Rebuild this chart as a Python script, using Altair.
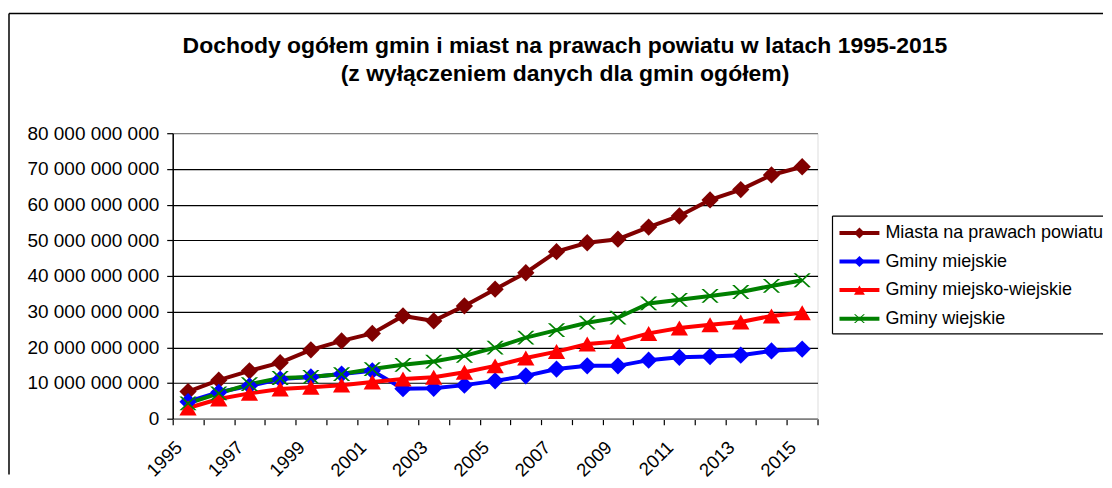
import altair as alt
import pandas as pd

# ---- data (values in PLN) ----
years = list(range(1995, 2016))
series = ["Miasta na prawach powiatu", "Gminy miejskie", "Gminy miejsko-wiejskie", "Gminy wiejskie"]
colors = ["#800000", "#0000FF", "#FF0000", "#008000"]
X_SHAPE = "M-1,-0.8L-0.72,-0.8L1,0.8L0.72,0.8ZM0.72,-0.8L1,-0.8L-0.72,0.8L-1,0.8Z"
shapes = ["diamond", "diamond", "triangle-up", X_SHAPE]

miasta = [7.6e9, 10.8e9, 13.4e9, 15.7e9, 19.3e9, 21.8e9, 23.9e9, 28.8e9, 27.4e9, 31.6e9, 36.3e9,
          40.9e9, 46.8e9, 49.3e9, 50.3e9, 53.7e9, 56.8e9, 61.3e9, 64.2e9, 68.3e9, 70.6e9]
miejskie = [4.75e9, 7.4e9, 9.2e9, 11.1e9, 11.7e9, 12.5e9, 13.4e9, 8.4e9, 8.5e9, 9.4e9, 10.6e9,
            12.0e9, 13.9e9, 14.8e9, 14.8e9, 16.4e9, 17.2e9, 17.4e9, 17.8e9, 19.0e9, 19.5e9]
miejsko_wiejskie = [3.0e9, 5.5e9, 7.1e9, 8.3e9, 8.8e9, 9.4e9, 10.3e9, 11.1e9, 11.6e9, 13.0e9, 14.8e9,
                    17.0e9, 18.8e9, 20.9e9, 21.6e9, 23.9e9, 25.4e9, 26.3e9, 27.1e9, 28.8e9, 29.7e9]
wiejskie = [4.3e9, 7.1e9, 9.7e9, 11.4e9, 11.7e9, 12.5e9, 13.9e9, 15.1e9, 16.0e9, 17.6e9, 19.9e9,
            22.7e9, 24.8e9, 26.9e9, 28.3e9, 32.3e9, 33.3e9, 34.4e9, 35.5e9, 37.2e9, 38.8e9]

y_ticks = [0, 10e9, 20e9, 30e9, 40e9, 50e9, 60e9, 70e9, 80e9]
title_lines = ["Dochody ogółem gmin i miast na prawach powiatu w latach 1995-2015",
               "(z wyłączeniem danych dla gmin ogółem)"]

rows = []
for idx, (name, vals) in enumerate(zip(series, [miasta, miejskie, miejsko_wiejskie, wiejskie])):
    for yr, v in zip(years, vals):
        rows.append({"rok": yr, "seria": name, "wartosc": v, "kolejnosc": idx})
df = pd.DataFrame(rows)

W, H = 646, 286
FONT = "Liberation Sans"

# x axis: ticks at category boundaries, labels at every other category centre
x_values = [y - 0.5 for y in years] + [years[-1] + 0.5] + years[::2]

x_enc = alt.X(
    "rok:Q",
    scale=alt.Scale(domain=[years[0] - 0.5, years[-1] + 0.5], nice=False, zero=False),
    axis=alt.Axis(
        values=x_values, title=None, grid=False,
        labelExpr="datum.value % 2 == 1 ? format(datum.value, 'd') : ''",
        labelAngle=-45, labelAlign="right", labelBaseline="top",
        labelOverlap=False, labelFont=FONT, labelFontSize=18.5, labelColor="black",
        labelPadding=13, labelOffset=-16, tickSize=6, tickColor="black", tickWidth=1.2,
        tickOpacity={"condition": {"test": "datum.value % 1 == 0", "value": 0}, "value": 1},
        domainColor="#808080", domainWidth=1.5,
    ),
)
y_enc = alt.Y(
    "wartosc:Q",
    scale=alt.Scale(domain=[0, 80e9], nice=False),
    axis=alt.Axis(
        values=y_ticks, title=None, grid=True,
        gridColor={"condition": {"test": "datum.value >= 80e9 || datum.value == 0", "value": "#808080"},
                   "value": "black"},
        gridWidth=1.2,
        labelExpr="replace(format(datum.value, ','), regexp(',', 'g'), ' ')",
        labelFont=FONT, labelFontSize=19, labelColor="black", labelPadding=8,
        tickSize=6, tickColor="black", tickWidth=1.2, domainColor="black", domainWidth=1.5,
    ),
)

leg_common = dict(title=None, orient="none", legendX=666, legendY=88, padding=0,
                  labelFont=FONT, labelFontSize=18, labelOffset=4, labelLimit=400,
                  clipHeight=24, rowPadding=4.6)

line_legend = alt.Legend(symbolType="stroke", symbolSize=1600, symbolStrokeWidth=4,
                         labelColor="black", **leg_common)
point_legend = alt.Legend(symbolSize=120, symbolStrokeWidth=0, symbolOffset=13,
                          labelOpacity=0, symbolOpacity=1, **leg_common)

one = pd.DataFrame({"k": [0]})
base = alt.Chart(one)
rule_style = dict(color="black", strokeWidth=1.5)

# outer chart frame (only top and left sides are visible in the reference)
frame_top = base.mark_rule(**rule_style).encode(
    x=alt.value(-164), x2=alt.value(W + 286), y=alt.value(-120))
frame_left = base.mark_rule(**rule_style).encode(
    x=alt.value(-164), y=alt.value(-120), y2=alt.value(H + 56))

# legend box (runs off the right edge in the reference)
lb_style = dict(color="black", strokeWidth=1.2)
leg_top = base.mark_rule(**lb_style).encode(x=alt.value(661), x2=alt.value(W + 286), y=alt.value(83))
leg_bot = base.mark_rule(**lb_style).encode(x=alt.value(661), x2=alt.value(W + 286), y=alt.value(201))
leg_left = base.mark_rule(**lb_style).encode(x=alt.value(661), y=alt.value(83), y2=alt.value(201))

title = base.mark_text(
    font=FONT, fontSize=23, fontWeight="bold", color="black", lineHeight=28,
    align="center", baseline="middle",
).encode(text=alt.value(title_lines), x=alt.value(393), y=alt.value(-87))

# lines: colour legend drawn as a stroke; points: fill + shape legend drawn on top of it
lines = alt.Chart(df).mark_line(strokeWidth=4).encode(
    x=x_enc, y=y_enc,
    color=alt.Color("seria:N", sort=series, scale=alt.Scale(range=colors), legend=line_legend),
)

points = alt.Chart(df).mark_point(filled=True, size=300, opacity=1).encode(
    x=x_enc, y=y_enc,
    fill=alt.Fill("seria:N", scale=alt.Scale(domain=series, range=colors), legend=point_legend),
    shape=alt.Shape("seria:N", scale=alt.Scale(domain=series, range=shapes), legend=point_legend),
    order=alt.Order("kolejnosc:Q"),
)

chart = alt.layer(
    frame_top, frame_left, leg_top, leg_bot, leg_left, title, lines, points
).properties(
    width=W, height=H,
    padding={"left": 0, "top": 4, "right": 0, "bottom": 0},
).configure_view(
    stroke="#808080", strokeWidth=1.5
).configure(background="white")

chart.save("out.html", embed_options={"renderer": "svg", "actions": False})
